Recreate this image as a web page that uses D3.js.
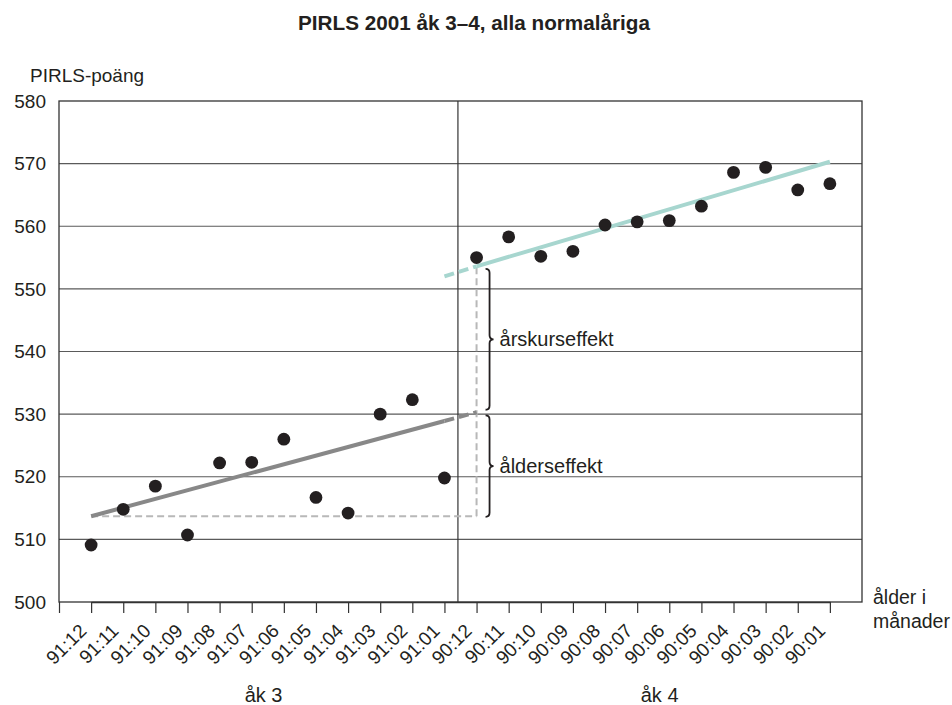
<!DOCTYPE html>
<html>
<head>
<meta charset="utf-8">
<script src="https://cdn.jsdelivr.net/npm/d3@7"></script>
<style>
  body { margin: 0; background: #fff; }
  svg text { font-family: "Liberation Sans", Arial, sans-serif; fill: #231f20; }
</style>
</head>
<body>
<svg id="chart"></svg>
<script>
// age in months (birth year:month), grade 3 then grade 4
const months = ["91:12", "91:11", "91:10", "91:09", "91:08", "91:07", "91:06", "91:05", "91:04", "91:03", "91:02", "91:01",
                "90:12", "90:11", "90:10", "90:09", "90:08", "90:07", "90:06", "90:05", "90:04", "90:03", "90:02", "90:01"];
const scores = [509.1, 514.8, 518.5, 510.7, 522.2, 522.3, 526.0, 516.7, 514.2, 530.0, 532.3, 519.8,
                555.0, 558.3, 555.2, 556.0, 560.2, 560.7, 560.9, 563.2, 568.6, 569.4, 565.8, 566.8];
const yTicks = [500, 510, 520, 530, 540, 550, 560, 570, 580];

// regression lines: [month, value] end points
const grade3Line = [["91:12", 513.7], ["91:01", 528.9]];
const grade3Ext = [["91:01", 528.9], ["90:12", 530.3]];
const grade4Ext = [["91:01", 552.0], ["90:12", 553.6]];
const grade4Line = [["90:12", 553.6], ["90:01", 570.3]];

// effect braces: [top, bottom] values
const gradeEffect = [553.2, 530.7];
const ageEffect = [529.8, 513.6];
const baseScore = 513.7;
const topScore = 554.7;

const width = 952, height = 705;
const margin = { top: 101, right: 90, bottom: 103, left: 59 };
const plotW = width - margin.left - margin.right,
      plotH = height - margin.top - margin.bottom;

const svg = d3.select("#chart")
    .attr("width", width)
    .attr("height", height);

const g = svg.append("g")
    .attr("transform", `translate(${margin.left},${margin.top})`);

// one empty slot on each side of the months
const step = plotW / 25;
const x = d3.scalePoint()
    .domain(months)
    .range([step, plotW - step]);

const y = d3.scaleLinear()
    .domain([500, 580])
    .range([plotH, 0]);

// grid lines
g.selectAll(".grid")
    .data(yTicks.slice(1, -1))
    .join("line")
    .attr("class", "grid")
    .attr("x1", 0).attr("x2", plotW)
    .attr("y1", d => y(d)).attr("y2", d => y(d))
    .attr("stroke", "#5a5a5a")
    .attr("stroke-width", 1.2);

// frame
g.append("rect")
    .attr("width", plotW).attr("height", plotH)
    .attr("fill", "none")
    .attr("stroke", "#333")
    .attr("stroke-width", 1.3);

// grade divider
const divX = x("91:01") + step * 0.42;
g.append("line")
    .attr("x1", divX).attr("x2", divX)
    .attr("y1", 0).attr("y2", plotH)
    .attr("stroke", "#333")
    .attr("stroke-width", 1.2);

// y tick labels
g.selectAll(".ylab")
    .data(yTicks)
    .join("text")
    .attr("class", "ylab")
    .attr("x", -13)
    .attr("y", d => y(d))
    .attr("dy", "0.35em")
    .attr("text-anchor", "end")
    .style("font-size", "19px")
    .text(d => d);

// x axis
const xAxis = d3.axisBottom(x).tickSize(11).tickSizeOuter(0);
const ax = g.append("g")
    .attr("transform", `translate(0,${plotH})`)
    .call(xAxis);
ax.select(".domain").attr("stroke", "#333").attr("stroke-width", 1.3);
ax.selectAll(".tick line").attr("stroke", "#333").attr("stroke-width", 1.2);
ax.append("line")
    .attr("x1", 0.5).attr("x2", 0.5)
    .attr("y1", 0).attr("y2", 11)
    .attr("stroke", "#333").attr("stroke-width", 1.2);
ax.selectAll(".tick text")
    .attr("x", 0).attr("y", 0).attr("dy", 0)
    .attr("transform", "translate(-4,30) rotate(-45)")
    .attr("text-anchor", "end")
    .attr("fill", "#231f20")
    .style("font-family", "'Liberation Sans', Arial, sans-serif")
    .style("font-size", "19px");

// dashed guide lines
const guide = "#b8b8b8";
g.append("line")
    .attr("x1", x("91:12")).attr("x2", x("90:12"))
    .attr("y1", y(baseScore)).attr("y2", y(baseScore))
    .attr("stroke", guide).attr("stroke-width", 2)
    .attr("stroke-dasharray", "7,4");
g.append("line")
    .attr("x1", x("90:12")).attr("x2", x("90:12"))
    .attr("y1", y(baseScore)).attr("y2", y(topScore))
    .attr("stroke", guide).attr("stroke-width", 2)
    .attr("stroke-dasharray", "7,4");

// regression lines
const line = d3.line().x(d => x(d[0])).y(d => y(d[1]));
function trend(pts, color, dash) {
    g.append("path")
        .attr("d", line(pts))
        .attr("fill", "none")
        .attr("stroke", color)
        .attr("stroke-width", 4)
        .attr("stroke-dasharray", dash);
}
trend(grade3Line, "#888888", null);
trend(grade3Ext, "#888888", "10,5");
trend(grade4Ext, "#a7d6cf", "10,5");
trend(grade4Line, "#a7d6cf", null);

// dots
g.selectAll(".dot")
    .data(months.map((m, i) => ({ m, v: scores[i] })))
    .join("circle")
    .attr("class", "dot")
    .attr("cx", d => x(d.m))
    .attr("cy", d => y(d.v))
    .attr("r", 6.4)
    .attr("fill", "#231f20");

// curly braces
const braceX = x("90:12") + 13;
function brace(vals, label) {
    const y1 = y(vals[0]), y2 = y(vals[1]), ym = (y1 + y2) / 2, w = 4;
    const p = `M${braceX - w},${y1} Q${braceX},${y1} ${braceX},${y1 + w}
        L${braceX},${ym - w} Q${braceX},${ym} ${braceX + w},${ym}
        Q${braceX},${ym} ${braceX},${ym + w}
        L${braceX},${y2 - w} Q${braceX},${y2} ${braceX - w},${y2}`;
    g.append("path")
        .attr("d", p)
        .attr("fill", "none")
        .attr("stroke", "#231f20")
        .attr("stroke-width", 1.8);
    g.append("text")
        .attr("x", braceX + 10)
        .attr("y", ym)
        .attr("dy", "0.35em")
        .style("font-size", "20px")
        .text(label);
}
brace(gradeEffect, "årskurseffekt");
brace(ageEffect, "ålderseffekt");

// titles and labels
svg.append("text")
    .attr("x", 474).attr("y", 30)
    .attr("text-anchor", "middle")
    .style("font-size", "20.7px")
    .style("font-weight", "bold")
    .text("PIRLS 2001 åk 3–4, alla normalåriga");

svg.append("text")
    .attr("x", 30).attr("y", 82)
    .style("font-size", "19px")
    .text("PIRLS-poäng");

g.append("text")
    .attr("x", plotW + 11).attr("y", plotH + 2)
    .style("font-size", "19.5px")
    .text("ålder i");
g.append("text")
    .attr("x", plotW + 11).attr("y", plotH + 26)
    .style("font-size", "19.5px")
    .text("månader");

g.append("text")
    .attr("x", step * 6.37).attr("y", plotH + 100)
    .attr("text-anchor", "middle")
    .style("font-size", "20px")
    .text("åk 3");
g.append("text")
    .attr("x", step * 18.7).attr("y", plotH + 100)
    .attr("text-anchor", "middle")
    .style("font-size", "20px")
    .text("åk 4");
</script>
</body>
</html>
